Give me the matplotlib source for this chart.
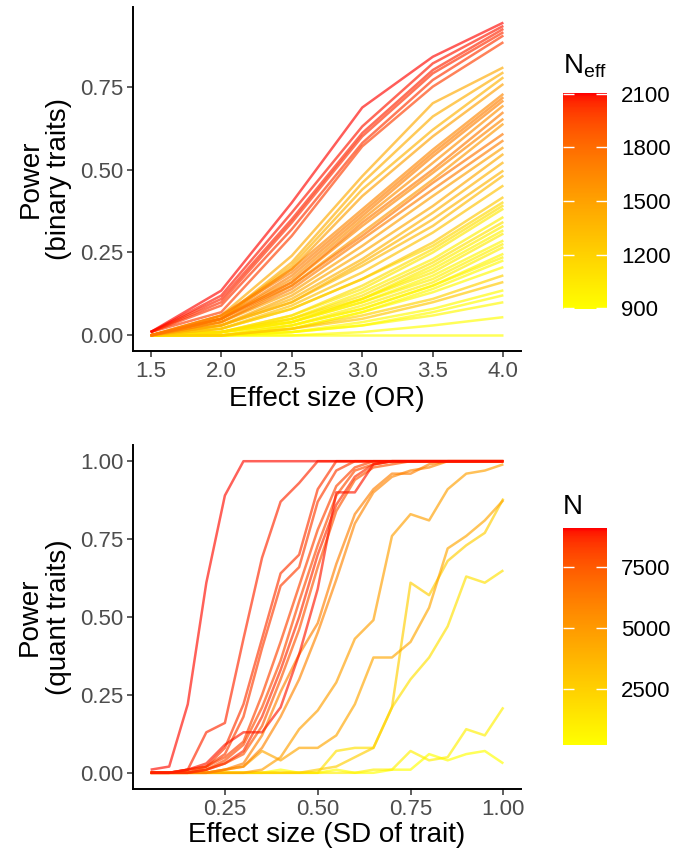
import numpy as np
import matplotlib
matplotlib.use("Agg")
import matplotlib.pyplot as plt
from matplotlib.colors import LinearSegmentedColormap, Normalize
from matplotlib.cm import ScalarMappable

plt.rcParams["font.family"] = ["Liberation Sans", "DejaVu Sans"]
plt.rcParams["mathtext.fontset"] = "custom"
plt.rcParams["mathtext.rm"] = "Liberation Sans"
plt.rcParams["mathtext.it"] = "Liberation Sans:italic"

# ---- binary traits: power by odds ratio, one curve per trait ----
odds_ratio = [1.5, 2.0, 2.5, 3.0, 3.5, 4.0]
neff_binary = [
    2100, 2080, 2060, 2040, 2020, 1990,
    1450, 1420, 1400, 1500, 1650, 1700, 1680, 1600, 1720, 1650,
    1550, 1750, 1700, 1500, 1450, 1400, 1380, 1350, 1300, 1250,
    1100, 1050, 1000, 1080, 980, 1020, 960, 1000, 950, 940,
    930, 1200, 1250, 920, 910, 930, 905, 895, 990, 970, 1150, 1010,
]
power_binary = [
    [0.01, 0.135, 0.40, 0.687, 0.840, 0.943],
    [0.01, 0.120, 0.37, 0.630, 0.820, 0.933],
    [0.01, 0.110, 0.35, 0.610, 0.800, 0.924],
    [0.01, 0.100, 0.34, 0.600, 0.790, 0.914],
    [0.01, 0.090, 0.32, 0.580, 0.770, 0.904],
    [0.01, 0.070, 0.30, 0.570, 0.750, 0.884],
    [0.00, 0.060, 0.24, 0.480, 0.700, 0.808],
    [0.00, 0.050, 0.22, 0.460, 0.660, 0.793],
    [0.00, 0.050, 0.21, 0.440, 0.620, 0.778],
    [0.00, 0.050, 0.20, 0.420, 0.600, 0.758],
    [0.00, 0.060, 0.20, 0.380, 0.560, 0.728],
    [0.00, 0.060, 0.19, 0.370, 0.550, 0.718],
    [0.00, 0.050, 0.18, 0.360, 0.540, 0.708],
    [0.00, 0.050, 0.17, 0.350, 0.520, 0.693],
    [0.00, 0.050, 0.16, 0.340, 0.500, 0.673],
    [0.00, 0.050, 0.16, 0.330, 0.490, 0.653],
    [0.00, 0.040, 0.15, 0.310, 0.470, 0.638],
    [0.00, 0.050, 0.15, 0.300, 0.460, 0.608],
    [0.00, 0.040, 0.14, 0.290, 0.440, 0.588],
    [0.00, 0.040, 0.13, 0.270, 0.420, 0.567],
    [0.00, 0.030, 0.12, 0.250, 0.390, 0.547],
    [0.00, 0.030, 0.11, 0.230, 0.370, 0.522],
    [0.00, 0.030, 0.10, 0.220, 0.350, 0.497],
    [0.00, 0.030, 0.10, 0.210, 0.330, 0.482],
    [0.00, 0.020, 0.09, 0.190, 0.310, 0.452],
    [0.00, 0.020, 0.08, 0.170, 0.280, 0.417],
    [0.00, 0.010, 0.06, 0.150, 0.260, 0.392],
    [0.00, 0.010, 0.06, 0.140, 0.250, 0.382],
    [0.00, 0.010, 0.05, 0.130, 0.230, 0.357],
    [0.00, 0.010, 0.05, 0.120, 0.220, 0.342],
    [0.00, 0.010, 0.04, 0.110, 0.200, 0.317],
    [0.00, 0.010, 0.04, 0.110, 0.190, 0.307],
    [0.00, 0.010, 0.04, 0.100, 0.180, 0.286],
    [0.00, 0.010, 0.03, 0.090, 0.160, 0.266],
    [0.00, 0.000, 0.03, 0.080, 0.150, 0.246],
    [0.00, 0.000, 0.02, 0.070, 0.140, 0.226],
    [0.00, 0.000, 0.02, 0.070, 0.130, 0.206],
    [0.00, 0.000, 0.02, 0.060, 0.110, 0.181],
    [0.00, 0.000, 0.02, 0.050, 0.100, 0.161],
    [0.00, 0.000, 0.01, 0.040, 0.080, 0.136],
    [0.00, 0.000, 0.01, 0.030, 0.070, 0.121],
    [0.00, 0.000, 0.01, 0.030, 0.060, 0.100],
    [0.00, 0.000, 0.00, 0.010, 0.030, 0.055],
    [0.00, 0.000, 0.00, 0.000, 0.000, 0.000],
    [0.00, 0.010, 0.04, 0.100, 0.170, 0.276],
    [0.00, 0.000, 0.03, 0.080, 0.150, 0.236],
    [0.00, 0.020, 0.08, 0.170, 0.270, 0.402],
    [0.00, 0.010, 0.05, 0.110, 0.210, 0.330],
]

# ---- quantitative traits: power by effect size (SD units) ----
effect_sd = [0.05, 0.10, 0.15, 0.20, 0.25, 0.30, 0.35, 0.40, 0.45, 0.50,
             0.55, 0.60, 0.65, 0.70, 0.75, 0.80, 0.85, 0.90, 0.95, 1.00]
n_quant = [9000, 8700, 8500, 8300, 8900, 8100, 7900, 8600, 7600, 6100,
           5800, 4700, 4400, 2600, 1700, 900, 250]
power_quant = [
    [0.01, 0.02, 0.22, 0.61, 0.89, 1.00, 1.00, 1.00, 1.00, 1.00, 1.00, 1.00, 1.00, 1.00, 1.00, 1.00, 1.00, 1.00, 1.00, 1.00],
    [0.00, 0.00, 0.01, 0.13, 0.16, 0.43, 0.69, 0.87, 0.93, 1.00, 1.00, 1.00, 1.00, 1.00, 1.00, 1.00, 1.00, 1.00, 1.00, 1.00],
    [0.00, 0.00, 0.01, 0.02, 0.08, 0.22, 0.43, 0.64, 0.70, 0.91, 1.00, 1.00, 1.00, 1.00, 1.00, 1.00, 1.00, 1.00, 1.00, 1.00],
    [0.00, 0.00, 0.01, 0.02, 0.06, 0.18, 0.40, 0.60, 0.66, 0.87, 0.97, 1.00, 1.00, 1.00, 1.00, 1.00, 1.00, 1.00, 1.00, 1.00],
    [0.00, 0.00, 0.01, 0.03, 0.09, 0.13, 0.13, 0.21, 0.38, 0.59, 0.90, 0.90, 0.99, 1.00, 1.00, 1.00, 1.00, 1.00, 1.00, 1.00],
    [0.00, 0.00, 0.00, 0.02, 0.05, 0.10, 0.25, 0.42, 0.60, 0.78, 0.92, 0.98, 1.00, 1.00, 1.00, 1.00, 1.00, 1.00, 1.00, 1.00],
    [0.00, 0.00, 0.00, 0.01, 0.04, 0.09, 0.21, 0.36, 0.55, 0.73, 0.89, 0.97, 0.99, 1.00, 1.00, 1.00, 1.00, 1.00, 1.00, 1.00],
    [0.00, 0.00, 0.00, 0.01, 0.03, 0.07, 0.18, 0.33, 0.50, 0.70, 0.86, 0.95, 0.99, 1.00, 1.00, 1.00, 1.00, 1.00, 1.00, 1.00],
    [0.00, 0.00, 0.00, 0.01, 0.03, 0.06, 0.15, 0.30, 0.46, 0.66, 0.84, 0.94, 0.98, 0.99, 1.00, 1.00, 1.00, 1.00, 1.00, 1.00],
    [0.00, 0.00, 0.00, 0.00, 0.01, 0.03, 0.12, 0.26, 0.38, 0.48, 0.67, 0.83, 0.91, 0.96, 0.96, 0.99, 1.00, 1.00, 1.00, 1.00],
    [0.00, 0.00, 0.00, 0.00, 0.01, 0.02, 0.08, 0.18, 0.30, 0.45, 0.62, 0.80, 0.90, 0.95, 0.97, 0.98, 1.00, 1.00, 1.00, 1.00],
    [0.00, 0.00, 0.00, 0.00, 0.00, 0.00, 0.01, 0.05, 0.14, 0.20, 0.29, 0.43, 0.49, 0.76, 0.83, 0.81, 0.91, 0.96, 0.97, 0.99],
    [0.00, 0.00, 0.00, 0.00, 0.01, 0.02, 0.07, 0.04, 0.08, 0.08, 0.12, 0.22, 0.37, 0.37, 0.42, 0.53, 0.72, 0.76, 0.81, 0.875],
    [0.00, 0.00, 0.00, 0.00, 0.00, 0.00, 0.00, 0.00, 0.00, 0.01, 0.02, 0.05, 0.08, 0.21, 0.61, 0.57, 0.68, 0.73, 0.77, 0.88],
    [0.00, 0.00, 0.00, 0.00, 0.00, 0.00, 0.00, 0.00, 0.00, 0.00, 0.07, 0.08, 0.08, 0.21, 0.30, 0.37, 0.47, 0.63, 0.61, 0.65],
    [0.00, 0.00, 0.00, 0.00, 0.00, 0.00, 0.00, 0.00, 0.00, 0.00, 0.00, 0.00, 0.01, 0.01, 0.07, 0.04, 0.05, 0.14, 0.12, 0.21],
    [0.00, 0.00, 0.00, 0.00, 0.00, 0.00, 0.00, 0.01, 0.00, 0.00, 0.01, 0.00, 0.00, 0.01, 0.01, 0.06, 0.04, 0.06, 0.07, 0.03],
]


def _srgb_to_lab(rgb):
    rgb = np.asarray(rgb, float)
    lin = np.where(rgb <= 0.04045, rgb / 12.92, ((rgb + 0.055) / 1.055) ** 2.4)
    m = np.array([[0.4124564, 0.3575761, 0.1804375],
                  [0.2126729, 0.7151522, 0.0721750],
                  [0.0193339, 0.1191920, 0.9503041]])
    xyz = m @ lin / np.array([0.95047, 1.0, 1.08883])
    f = np.where(xyz > 0.008856, np.cbrt(xyz), 7.787 * xyz + 16 / 116)
    return np.array([116 * f[1] - 16, 500 * (f[0] - f[1]), 200 * (f[1] - f[2])])


def _lab_to_srgb(lab):
    L, a, b = lab
    fy = (L + 16) / 116
    fx = fy + a / 500
    fz = fy - b / 200
    f = np.array([fx, fy, fz])
    xyz = np.where(f ** 3 > 0.008856, f ** 3, (f - 16 / 116) / 7.787)
    xyz = xyz * np.array([0.95047, 1.0, 1.08883])
    minv = np.array([[3.2404542, -1.5371385, -0.4985314],
                     [-0.9692660, 1.8760108, 0.0415560],
                     [0.0556434, -0.2040259, 1.0572252]])
    lin = np.clip(minv @ xyz, 0, 1)
    rgb = np.where(lin <= 0.0031308, 12.92 * lin, 1.055 * lin ** (1 / 2.4) - 0.055)
    return np.clip(rgb, 0, 1)


# yellow -> red ramp interpolated in CIELAB
lab_lo = _srgb_to_lab([1, 1, 0])
lab_hi = _srgb_to_lab([1, 0, 0])
ramp = [_lab_to_srgb(lab_lo + t * (lab_hi - lab_lo)) for t in np.linspace(0, 1, 256)]
cmap = LinearSegmentedColormap.from_list("yellow_red", ramp)

W, H = 673, 857
fig = plt.figure(figsize=(W / 100, H / 100), dpi=100)


def frac(x0, y0, x1, y1):
    return [x0 / W, 1 - y1 / H, (x1 - x0) / W, (y1 - y0) / H]


ax1 = fig.add_axes(frac(133, 7, 521, 351))
ax2 = fig.add_axes(frac(133, 445, 521, 789))
cax1 = fig.add_axes(frac(563, 93, 607, 309))
cax2 = fig.add_axes(frac(563, 528, 607, 745))

LW = 1.8
ALPHA = 0.65
TICK_FS = 16
TITLE_FS = 20

norm1 = Normalize(vmin=895, vmax=2105)
for i in np.argsort(neff_binary, kind="stable"):
    ax1.plot(odds_ratio, power_binary[i], color=cmap(norm1(neff_binary[i])),
             lw=LW, alpha=ALPHA, solid_joinstyle="round", solid_capstyle="butt")

norm2 = Normalize(vmin=216, vmax=9090)
for i in np.argsort(n_quant, kind="stable"):
    ax2.plot(effect_sd, power_quant[i], color=cmap(norm2(n_quant[i])),
             lw=LW, alpha=ALPHA, solid_joinstyle="round", solid_capstyle="butt")

ax1.set_xlim(1.375, 4.125)
ax1.set_ylim(-0.047, 0.99)
ax1.set_xticks([1.5, 2.0, 2.5, 3.0, 3.5, 4.0])
ax1.set_xticklabels(["1.5", "2.0", "2.5", "3.0", "3.5", "4.0"])
ax1.set_yticks([0, 0.25, 0.5, 0.75])
ax1.set_yticklabels(["0.00", "0.25", "0.50", "0.75"])
ax1.set_xlabel("Effect size (OR)", fontsize=TITLE_FS, labelpad=3)
ax1.set_ylabel("Power\n(binary traits)", fontsize=TITLE_FS, labelpad=6,
               linespacing=1.12)

ax2.set_xlim(0.0025, 1.0475)
ax2.set_ylim(-0.052, 1.052)
ax2.set_xticks([0.25, 0.5, 0.75, 1.0])
ax2.set_xticklabels(["0.25", "0.50", "0.75", "1.00"])
ax2.set_yticks([0, 0.25, 0.5, 0.75, 1.0])
ax2.set_yticklabels(["0.00", "0.25", "0.50", "0.75", "1.00"])
ax2.set_xlabel("Effect size (SD of trait)", fontsize=TITLE_FS, labelpad=2)
ax2.set_ylabel("Power\n(quant traits)", fontsize=TITLE_FS, labelpad=6,
               linespacing=1.12)

for ax in (ax1, ax2):
    for side in ("top", "right"):
        ax.spines[side].set_visible(False)
    for side in ("left", "bottom"):
        ax.spines[side].set_linewidth(1.4)
        ax.spines[side].set_color("black")
    ax.tick_params(axis="both", length=4, width=1.1, color="#333333",
                   labelcolor="#4D4D4D", labelsize=TICK_FS, pad=3)

for cax, norm, ticks in (
    (cax1, norm1, [900, 1200, 1500, 1800, 2100]),
    (cax2, norm2, [2500, 5000, 7500]),
):
    cb = fig.colorbar(ScalarMappable(norm=norm, cmap=cmap), cax=cax)
    cb.outline.set_visible(False)
    cb.set_ticks(ticks)
    cb.set_ticklabels([str(t) for t in ticks])
    cax.tick_params(axis="y", which="major", direction="in", length=8, width=1,
                    color="white", left=True, right=True, labelleft=False,
                    labelright=True, labelsize=TICK_FS, labelcolor="black", pad=10)
    cax.tick_params(axis="y", which="minor", length=0)

fig.text(563 / W, 1 - 73 / H, r"N$_{\mathrm{eff}}$", fontsize=TITLE_FS,
         ha="left", va="baseline")
fig.text(563 / W, 1 - 514 / H, "N", fontsize=TITLE_FS, ha="left", va="baseline")

fig.savefig("out.png", dpi=100)
